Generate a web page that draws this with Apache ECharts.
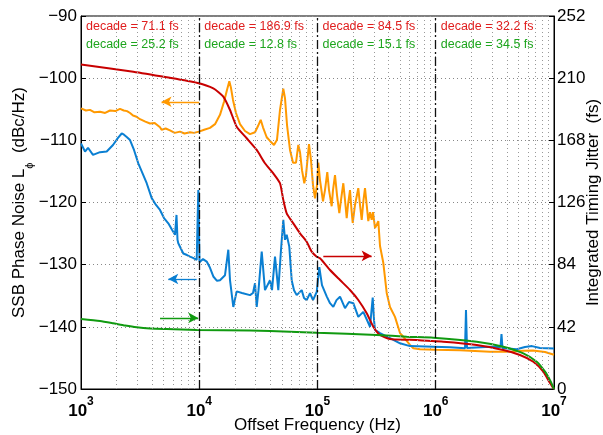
<!DOCTYPE html>
<html><head><meta charset="utf-8">
<script src="https://cdn.jsdelivr.net/npm/echarts@6/dist/echarts.min.js"></script>
<style>html,body{margin:0;padding:0;background:#fff}#c{width:603px;height:435px}</style>
</head><body><div id="c"></div>
<script>
const FONT = "'Liberation Sans', Arial, Helvetica, sans-serif";

// ---- data ----
const decadeStarts = [1e3, 1e4, 1e5, 1e6];
const decadeRed = ['71.1', '186.9', '84.5', '32.2'];
const decadeGreen = ['25.2', '12.8', '15.1', '34.5'];

const orangeF = [1000,1100,1191,1300,1448,1600,1759,1950,2137,2300,2449,2600,2753,2950,3155,3500,3833,4200,4657,4800,5200,5657,6200,6873,7500,8352,9000,9952,11000,12330,13590,14980,16200,17160,17960,18560,19290,20450,22110,24370,26870,29620,31400,33090,34600,37190,39660,42870,45450,48180,51380,53110,55220,58540,62080,65800,68800,71120,73940,77330,79920,84740,88100,91620,95260,99030,101600,105000,111300,115700,121000,125100,131800,135200,140600,146200,152900,158000,165300,170800,176600,181100,188300,193900,198500,207600,221300,228800,236500,244900,252200,260700,268900,278000,287300,294600,306400,318600,326800,337800,360100,384800,410300,452200,498500,531600,605700,645900,736000,985500,1603000,2876000,4245000,5500000,6643000,8393000,10000000];
const orangeL = [-104.85,-105.2,-105.1,-105.5,-105.4,-105.6,-105.2,-105.3,-104.95,-105.2,-105.3,-105.6,-106.0,-106.2,-106.6,-107.0,-107.3,-107.2,-107.9,-108.3,-108.1,-108.4,-108.8,-108.6,-108.9,-108.7,-108.8,-108.6,-108.3,-108.0,-107.4,-105.9,-103.8,-101.9,-100.5,-101.6,-103.5,-105.6,-107.4,-108.5,-109.0,-108.7,-107.7,-106.7,-107.9,-109.5,-110.1,-110.75,-109.9,-105.1,-101.7,-103.2,-107.5,-111.55,-113.6,-113.6,-110.75,-111.9,-114.8,-116.9,-115.6,-110.6,-113.2,-117.2,-119.35,-117.2,-113.6,-116.4,-119.8,-118.0,-115.1,-118.0,-120.6,-118.0,-115.6,-118.8,-121.7,-119.6,-116.9,-119.6,-122.5,-120.4,-118.0,-121.2,-123.3,-120.4,-117.7,-120.4,-122.8,-119.6,-117.7,-120.4,-123.0,-121.55,-122.8,-121.55,-124.1,-123.45,-123.0,-127.0,-129.7,-134.55,-136.8,-138.4,-141.0,-141.6,-142.9,-143.45,-143.6,-143.7,-143.75,-144.0,-144.0,-143.85,-143.8,-144.05,-144.5];

const blueF = [1000,1081,1146,1263,1448,1650,1865,2055,2209,2310,2449,2597,2807,3052,3281,3594,3962,4307,4657,5035,5474,5885,6236,6421,6548,6649,7330,7878,8352,8852,9515,9817,10050,10760,11560,12330,13150,14130,14980,16510,17610,18200,19410,20730,22980,26870,28480,29620,30610,31700,33750,35970,39660,41230,43720,46610,49130,51380,53110,54890,57730,60500,63290,66700,73520,76890,81030,86430,91620,98450,103600,109100,119600,127600,136000,144800,155000,170800,184700,200800,221300,243900,262200,278000,293000,300500,306400,337800,410300,498500,605700,953500,1319000,1768000,1802000,1837000,2876000,3528000,3597000,3668000,4838000,5685000,6516000,7612000,10000000];
const blueL = [-110.5,-111.8,-111.2,-112.35,-111.9,-111.8,-110.75,-109.6,-108.9,-109.1,-109.5,-109.95,-111.55,-113.7,-115.1,-116.9,-119.3,-120.4,-121.2,-122.5,-123.35,-124.4,-125.2,-122.0,-126.0,-126.55,-128.2,-128.45,-128.7,-128.9,-129.25,-118.0,-129.6,-129.1,-129.5,-130.5,-131.9,-132.6,-132.5,-131.7,-127.6,-132.5,-136.8,-134.3,-134.55,-134.9,-134.55,-133.0,-136.8,-134.1,-127.9,-134.1,-132.5,-134.1,-128.7,-134.1,-127.6,-122.8,-126.0,-125.2,-127.1,-132.5,-134.1,-134.9,-134.1,-135.35,-135.7,-134.6,-135.7,-134.4,-130.4,-133.3,-135.1,-136.2,-136.8,-135.7,-135.15,-137.0,-136.0,-136.2,-138.4,-137.6,-138.9,-140.0,-135.3,-138.9,-140.5,-141.0,-141.8,-142.65,-143.1,-143.2,-143.3,-143.45,-137.3,-143.4,-143.2,-143.25,-141.15,-143.4,-143.6,-143.25,-143.1,-143.4,-143.5];

const redF = [1000,2769,5304,9515,13150,15970,18200,20730,25190,30610,35970,42290,48180,51380,54890,62440,71120,81030,89290,98450,105000,127600,155000,188300,221300,260700,296400,337800,410300,605700,1158000,2220000,3726000,5157000,6684000,8121000,9251000,9650000,10000000];
const redJ = [219.3,214.4,210.6,206.9,203.1,197.5,188.5,177.2,169.4,161.5,152.5,145.7,139.0,127.7,118.7,111.9,105.2,99.5,92.8,89.4,88.3,80.4,73.6,66.9,60.1,51.1,42.1,36.5,33.8,33.2,31.9,29.7,26.3,23.0,18.4,11.7,4.0,1.8,0];

const greenF = [1000,1448,1865,2356,2957,3833,5304,9515,26870,58540,98450,316700,567800,953500,2220000,3726000,5502000,7138000,8393000,9251000,9700000,10000000];
const greenJ = [47.3,45.9,44.4,42.9,41.7,40.9,40.5,39.9,39.5,38.7,38.0,36.5,35.3,34.7,32.0,28.6,24.1,18.4,11.7,6.0,2.5,0];

// arrows: [tail freq, head freq, level]
const arrowOrange = [1.0e4, 4.8e3, -103.8];
const arrowBlue = [9.5e3, 5.47e3, -132.3];
const arrowGreen = [4.66e3, 9.8e3, 48.0];
const arrowRed = [1.12e5, 2.87e5, 89.9];

const leftMin = -150, leftMax = -90, leftStep = 10;
const rightMin = 0, rightMax = 252, rightStep = 42;

// ---- colors ----
const C_OR = '#ff9900', C_BL = '#0a7fd2', C_RD = '#c80000', C_GR = '#109a10';
const T_RD = '#e01e1e', T_GR = '#1ea51e';

const zip = (a, b) => a.map((v, i) => [v, b[i]]);
const minorLines = [];
for (let d = 1e3; d < 1e7; d *= 10) for (let k = 2; k <= 9; k++) minorLines.push({ xAxis: k * d });

function arrowML(a, color) {
  return {
    silent: true, symbol: ['none', 'arrow'], symbolSize: [8, 10],
    label: { show: false }, lineStyle: { color, width: 1.3, type: 'solid' },
    data: [[{ coord: [a[0], a[2]] }, { coord: [a[1], a[2]] }]]
  };
}

const chart = echarts.init(document.getElementById('c'), null, { renderer: 'canvas' });
const minus = v => (v < 0 ? '\u2212' + Math.abs(v) : String(v));

chart.setOption({
  animation: false,
  backgroundColor: '#fff',
  textStyle: { fontFamily: FONT },
  grid: { left: 81, right: 49, top: 16, bottom: 46, show: true, borderColor: '#000', borderWidth: 1,
    containLabel: false, outerBoundsMode: 'none' },
  xAxis: {
    type: 'log', logBase: 10, min: 1e3, max: 1e7,
    axisLine: { show: true, lineStyle: { color: '#000', width: 1 } },
    axisTick: { show: true, inside: true, length: 5, lineStyle: { color: '#000' } },
    minorTick: { show: false },
    splitLine: { show: true, lineStyle: { color: '#888', type: [1, 3], width: 1 } },
    axisLabel: {
      margin: 7,
      formatter: v => '{b|10}{s|' + Math.round(Math.log10(v)) + '}',
      rich: {
        b: { fontSize: 17, fontWeight: 'bold', color: '#000', fontFamily: FONT, verticalAlign: 'bottom', lineHeight: 24 },
        s: { fontSize: 12, fontWeight: 'bold', color: '#000', fontFamily: FONT, verticalAlign: 'top', lineHeight: 24 }
      }
    },
    name: 'Offset Frequency (Hz)', nameLocation: 'middle', nameGap: 36, nameMoveOverlap: false,
    nameTextStyle: { fontSize: 17, color: '#000', fontFamily: FONT, verticalAlign: 'middle', lineHeight: 17, padding: 0 }
  },
  yAxis: [{
    type: 'value', min: leftMin, max: leftMax, interval: leftStep,
    axisLine: { show: true, lineStyle: { color: '#000' } },
    axisTick: { show: true, inside: true, length: 5, lineStyle: { color: '#000' } },
    splitLine: { show: true, lineStyle: { color: '#888', type: [1, 3], width: 1 } },
    axisLabel: { formatter: minus, fontSize: 17, color: '#000', margin: 4, fontFamily: FONT },
    name: '{n|SSB Phase Noise L}{sub|\u03d5}{n|  (dBc/Hz)}', nameLocation: 'middle', nameGap: 58, nameMoveOverlap: false,
    nameTextStyle: {
      fontSize: 17, color: '#000', fontFamily: FONT, verticalAlign: 'middle', align: 'center',
      rich: {
        n: { fontSize: 17, color: '#000', fontFamily: FONT, verticalAlign: 'top', lineHeight: 24 },
        sub: { fontSize: 11, color: '#000', fontFamily: FONT, verticalAlign: 'bottom', lineHeight: 24 }
      }
    }
  }, {
    type: 'value', min: rightMin, max: rightMax, interval: rightStep, position: 'right',
    axisLine: { show: true, lineStyle: { color: '#000' } },
    axisTick: { show: true, inside: true, length: 5, lineStyle: { color: '#000' } },
    splitLine: { show: false },
    axisLabel: { fontSize: 17, color: '#000', margin: 3, fontFamily: FONT },
    name: 'Integrated Timing Jitter  (fs)', nameLocation: 'middle', nameGap: 39, nameRotate: 90, nameMoveOverlap: false,
    nameTextStyle: { fontSize: 17, color: '#000', fontFamily: FONT, verticalAlign: 'middle', align: 'center', lineHeight: 17, padding: 0 }
  }],
  series: [
    { type: 'line', data: [], z: 1, silent: true,
      markLine: { silent: true, symbol: 'none', label: { show: false }, animation: false,
        lineStyle: { color: '#999', type: [1, 3], width: 1 }, data: minorLines } },
    { name: 'orange', type: 'line', data: zip(orangeF, orangeL), showSymbol: false, z: 3,
      lineStyle: { color: C_OR, width: 2 }, itemStyle: { color: C_OR }, markLine: arrowML(arrowOrange, C_OR) },
    { name: 'blue', type: 'line', data: zip(blueF, blueL), showSymbol: false, z: 3,
      lineStyle: { color: C_BL, width: 2 }, itemStyle: { color: C_BL }, markLine: arrowML(arrowBlue, C_BL) },
    { name: 'red', type: 'line', yAxisIndex: 1, data: zip(redF, redJ), showSymbol: false, z: 3, smooth: 0.2,
      lineStyle: { color: C_RD, width: 2 }, itemStyle: { color: C_RD }, markLine: arrowML(arrowRed, C_RD) },
    { name: 'green', type: 'line', yAxisIndex: 1, data: zip(greenF, greenJ), showSymbol: false, z: 3, smooth: 0.2,
      lineStyle: { color: C_GR, width: 2 }, itemStyle: { color: C_GR }, markLine: arrowML(arrowGreen, C_GR) },
    { type: 'line', data: [], z: 6, silent: true,
      markLine: { silent: true, symbol: 'none', label: { show: false },
        lineStyle: { color: '#111', type: [9, 3, 2, 3], width: 1.3 },
        data: decadeStarts.slice(1).map(f => ({ xAxis: f })) } }
  ]
});

// decade annotations
const graphics = [];
decadeStarts.forEach((f, i) => {
  const p = chart.convertToPixel({ xAxisIndex: 0, yAxisIndex: 0 }, [f, leftMax]);
  graphics.push({ type: 'text', x: p[0] + 5, y: p[1] + 11, z: 10,
    style: { text: 'decade = ' + decadeRed[i] + ' fs', fill: T_RD, font: '12.5px ' + FONT, align: 'left', verticalAlign: 'middle' } });
  graphics.push({ type: 'text', x: p[0] + 5, y: p[1] + 29, z: 10,
    style: { text: 'decade = ' + decadeGreen[i] + ' fs', fill: T_GR, font: '12.5px ' + FONT, align: 'left', verticalAlign: 'middle' } });
});
chart.setOption({ graphic: graphics });
</script></body></html>
